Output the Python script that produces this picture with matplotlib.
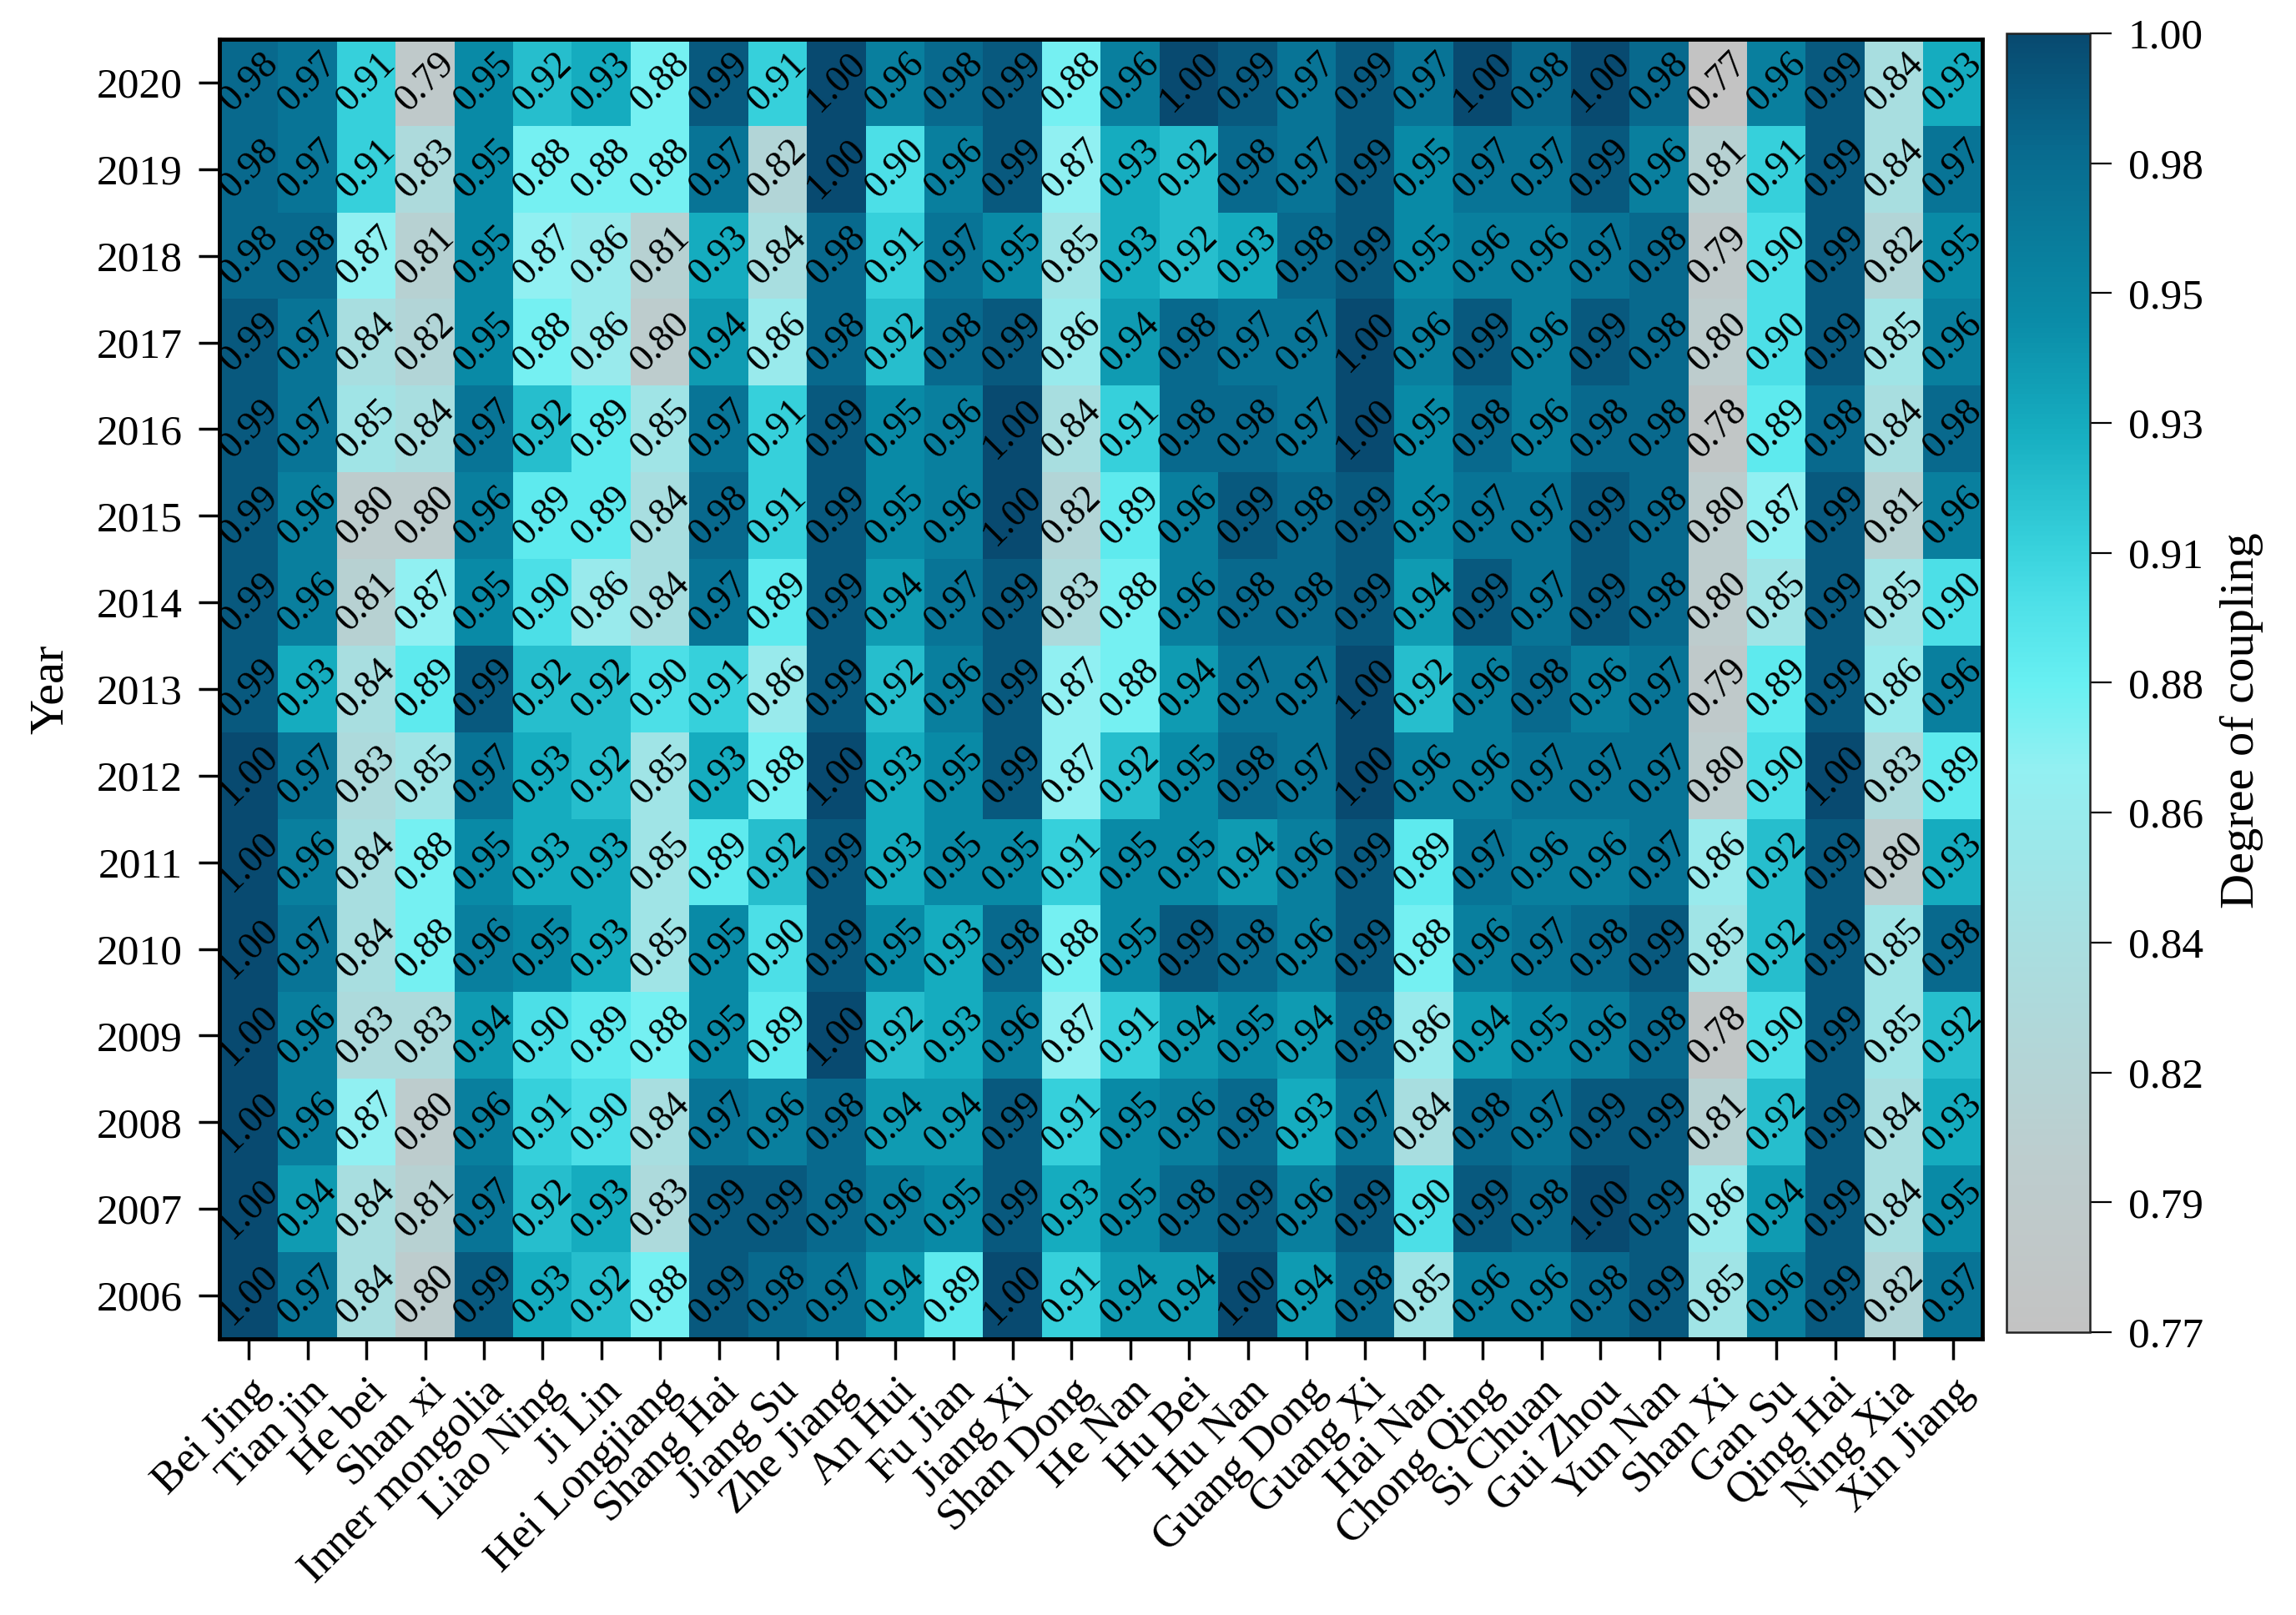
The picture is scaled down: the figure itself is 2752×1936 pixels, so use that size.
import numpy as np
import matplotlib
matplotlib.use("Agg")
import matplotlib.pyplot as plt
from matplotlib.colors import LinearSegmentedColormap
from matplotlib.transforms import ScaledTranslation

plt.rcParams['font.family'] = ['Liberation Serif', 'DejaVu Serif']

provinces = ["Bei Jing", "Tian jin", "He bei", "Shan xi", "Inner mongolia", "Liao Ning",
             "Ji Lin", "Hei Longjiang", "Shang Hai", "Jiang Su", "Zhe Jiang", "An Hui",
             "Fu Jian", "Jiang Xi", "Shan Dong", "He Nan", "Hu Bei", "Hu Nan", "Guang Dong",
             "Guang Xi", "Hai Nan", "Chong Qing", "Si Chuan", "Gui Zhou", "Yun Nan",
             "Shan Xi", "Gan Su", "Qing Hai", "Ning Xia", "Xin Jiang"]

years = ["2020", "2019", "2018", "2017", "2016", "2015", "2014", "2013",
         "2012", "2011", "2010", "2009", "2008", "2007", "2006"]

v2020 = [0.98, 0.97, 0.91, 0.79, 0.95, 0.92, 0.93, 0.88, 0.99, 0.91, 1.00, 0.96, 0.98, 0.99, 0.88,
         0.96, 1.00, 0.99, 0.97, 0.99, 0.97, 1.00, 0.98, 1.00, 0.98, 0.77, 0.96, 0.99, 0.84, 0.93]
v2019 = [0.98, 0.97, 0.91, 0.83, 0.95, 0.88, 0.88, 0.88, 0.97, 0.82, 1.00, 0.90, 0.96, 0.99, 0.87,
         0.93, 0.92, 0.98, 0.97, 0.99, 0.95, 0.97, 0.97, 0.99, 0.96, 0.81, 0.91, 0.99, 0.84, 0.97]
v2018 = [0.98, 0.98, 0.87, 0.81, 0.95, 0.87, 0.86, 0.81, 0.93, 0.84, 0.98, 0.91, 0.97, 0.95, 0.85,
         0.93, 0.92, 0.93, 0.98, 0.99, 0.95, 0.96, 0.96, 0.97, 0.98, 0.79, 0.90, 0.99, 0.82, 0.95]
v2017 = [0.99, 0.97, 0.84, 0.82, 0.95, 0.88, 0.86, 0.80, 0.94, 0.86, 0.98, 0.92, 0.98, 0.99, 0.86,
         0.94, 0.98, 0.97, 0.97, 1.00, 0.96, 0.99, 0.96, 0.99, 0.98, 0.80, 0.90, 0.99, 0.85, 0.96]
v2016 = [0.99, 0.97, 0.85, 0.84, 0.97, 0.92, 0.89, 0.85, 0.97, 0.91, 0.99, 0.95, 0.96, 1.00, 0.84,
         0.91, 0.98, 0.98, 0.97, 1.00, 0.95, 0.98, 0.96, 0.98, 0.98, 0.78, 0.89, 0.98, 0.84, 0.98]
v2015 = [0.99, 0.96, 0.80, 0.80, 0.96, 0.89, 0.89, 0.84, 0.98, 0.91, 0.99, 0.95, 0.96, 1.00, 0.82,
         0.89, 0.96, 0.99, 0.98, 0.99, 0.95, 0.97, 0.97, 0.99, 0.98, 0.80, 0.87, 0.99, 0.81, 0.96]
v2014 = [0.99, 0.96, 0.81, 0.87, 0.95, 0.90, 0.86, 0.84, 0.97, 0.89, 0.99, 0.94, 0.97, 0.99, 0.83,
         0.88, 0.96, 0.98, 0.98, 0.99, 0.94, 0.99, 0.97, 0.99, 0.98, 0.80, 0.85, 0.99, 0.85, 0.90]
v2013 = [0.99, 0.93, 0.84, 0.89, 0.99, 0.92, 0.92, 0.90, 0.91, 0.86, 0.99, 0.92, 0.96, 0.99, 0.87,
         0.88, 0.94, 0.97, 0.97, 1.00, 0.92, 0.96, 0.98, 0.96, 0.97, 0.79, 0.89, 0.99, 0.86, 0.96]
v2012 = [1.00, 0.97, 0.83, 0.85, 0.97, 0.93, 0.92, 0.85, 0.93, 0.88, 1.00, 0.93, 0.95, 0.99, 0.87,
         0.92, 0.95, 0.98, 0.97, 1.00, 0.96, 0.96, 0.97, 0.97, 0.97, 0.80, 0.90, 1.00, 0.83, 0.89]
v2011 = [1.00, 0.96, 0.84, 0.88, 0.95, 0.93, 0.93, 0.85, 0.89, 0.92, 0.99, 0.93, 0.95, 0.95, 0.91,
         0.95, 0.95, 0.94, 0.96, 0.99, 0.89, 0.97, 0.96, 0.96, 0.97, 0.86, 0.92, 0.99, 0.80, 0.93]
v2010 = [1.00, 0.97, 0.84, 0.88, 0.96, 0.95, 0.93, 0.85, 0.95, 0.90, 0.99, 0.95, 0.93, 0.98, 0.88,
         0.95, 0.99, 0.98, 0.96, 0.99, 0.88, 0.96, 0.97, 0.98, 0.99, 0.85, 0.92, 0.99, 0.85, 0.98]
v2009 = [1.00, 0.96, 0.83, 0.83, 0.94, 0.90, 0.89, 0.88, 0.95, 0.89, 1.00, 0.92, 0.93, 0.96, 0.87,
         0.91, 0.94, 0.95, 0.94, 0.98, 0.86, 0.94, 0.95, 0.96, 0.98, 0.78, 0.90, 0.99, 0.85, 0.92]
v2008 = [1.00, 0.96, 0.87, 0.80, 0.96, 0.91, 0.90, 0.84, 0.97, 0.96, 0.98, 0.94, 0.94, 0.99, 0.91,
         0.95, 0.96, 0.98, 0.93, 0.97, 0.84, 0.98, 0.97, 0.99, 0.99, 0.81, 0.92, 0.99, 0.84, 0.93]
v2007 = [1.00, 0.94, 0.84, 0.81, 0.97, 0.92, 0.93, 0.83, 0.99, 0.99, 0.98, 0.96, 0.95, 0.99, 0.93,
         0.95, 0.98, 0.99, 0.96, 0.99, 0.90, 0.99, 0.98, 1.00, 0.99, 0.86, 0.94, 0.99, 0.84, 0.95]
v2006 = [1.00, 0.97, 0.84, 0.80, 0.99, 0.93, 0.92, 0.88, 0.99, 0.98, 0.97, 0.94, 0.89, 1.00, 0.91,
         0.94, 0.94, 1.00, 0.94, 0.98, 0.85, 0.96, 0.96, 0.98, 0.99, 0.85, 0.96, 0.99, 0.82, 0.97]

cbar_ticks = [0.77, 0.793, 0.816, 0.839, 0.862, 0.885, 0.908, 0.931, 0.954, 0.977, 1.00]
cbar_labels = ["0.77", "0.79", "0.82", "0.84", "0.86", "0.88", "0.91", "0.93", "0.95", "0.98", "1.00"]

data = np.array([v2020, v2019, v2018, v2017, v2016, v2015, v2014, v2013,
                 v2012, v2011, v2010, v2009, v2008, v2007, v2006])

vmin, vmax = 0.77, 1.00
anchors = [(0.77, "#C3C3C3"), (0.80, "#BDCDCE"), (0.84, "#A8DFE1"), (0.87, "#92F0F2"),
           (0.885, "#68F0F2"), (0.90, "#4CDFE7"), (0.91, "#36D0DB"), (0.93, "#16ADC0"),
           (0.95, "#0A8BA7"), (0.98, "#086A8E"), (1.00, "#084A70")]
cmap = LinearSegmentedColormap.from_list(
    "coupling", [((v - vmin) / (vmax - vmin), c) for v, c in anchors], N=256)

W, H = 2752, 1936
fig = plt.figure(figsize=(W / 100, H / 100), dpi=100)
ax = fig.add_axes([263 / W, 1 - 1605 / H, (2376 - 263) / W, (1605 - 47) / H])
cax = fig.add_axes([2405 / W, 1 - 1597 / H, 100 / W, (1597 - 40) / H])

im = ax.imshow(data, cmap=cmap, vmin=vmin, vmax=vmax, aspect='auto', interpolation='nearest')

for i in range(data.shape[0]):
    for j in range(data.shape[1]):
        ax.text(j, i, f"{data[i, j]:.2f}", ha='center', va='center', rotation=45,
                rotation_mode='anchor', fontsize=33, color='black')

ax.set_yticks(range(len(years)))
ax.set_yticklabels(years, fontsize=37)
ax.set_xticks(range(len(provinces)))
ax.set_xticklabels(provinces, fontsize=38, rotation=45, ha='right', va='top',
                   rotation_mode='anchor')
offset = ScaledTranslation(46 / 100, -6 / 100, fig.dpi_scale_trans)
for lab in ax.get_xticklabels():
    lab.set_transform(lab.get_transform() + offset)

ax.tick_params(axis='both', direction='out', length=18, width=2.5, pad=10)
ax.tick_params(axis='y', pad=14)
for sp in ax.spines.values():
    sp.set_linewidth(3.5)
fig.text(61 / W, 1 - 826 / H, "Year", rotation=90, fontsize=42, ha='center', va='center')

cb = fig.colorbar(im, cax=cax)
cb.set_ticks(cbar_ticks)
cb.set_ticklabels(cbar_labels)
cb.outline.set_linewidth(1.8)
cb.outline.set_edgecolor('#222222')
cax.tick_params(direction='out', length=19, width=1.6, labelsize=37, pad=14)
fig.text(2687 / W, 1 - 864 / H, "Degree of coupling", rotation=90, fontsize=42,
         ha='center', va='center')

fig.savefig("out.png", dpi=100)
